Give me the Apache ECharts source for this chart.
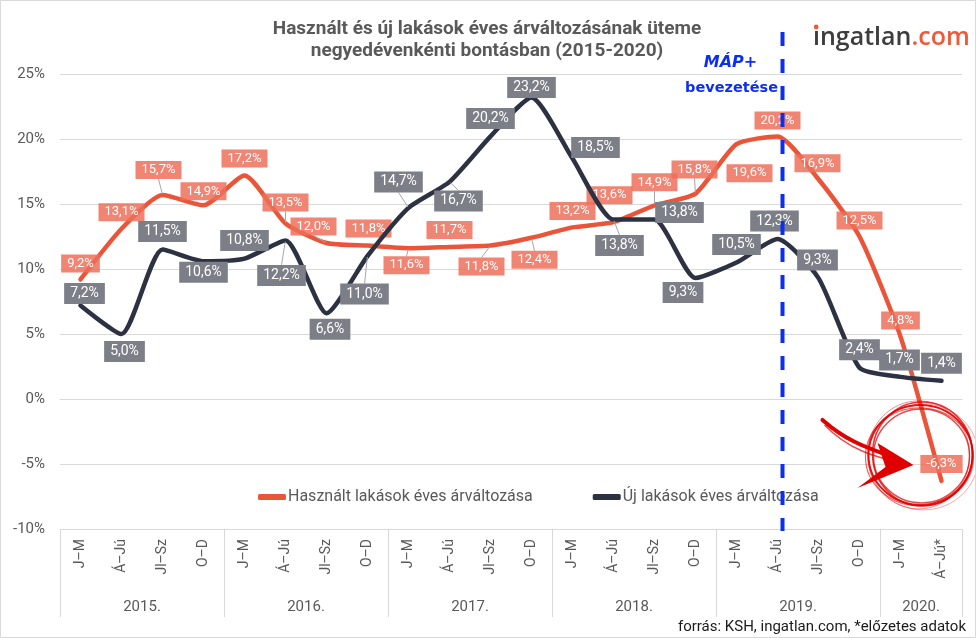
<!DOCTYPE html>
<html>
<head>
<meta charset="utf-8">
<script src="https://cdn.jsdelivr.net/npm/echarts@6/dist/echarts.min.js"></script>
<style>
html,body{margin:0;padding:0;background:#fff;}
#c{width:976px;height:638px;}
</style>
</head>
<body>
<div id="c"></div>
<script>
// ---- data ----
const quarters = ['J–M','Á–Jú','Jl–Sz','O–D','J–M','Á–Jú','Jl–Sz','O–D','J–M','Á–Jú','Jl–Sz','O–D','J–M','Á–Jú','Jl–Sz','O–D','J–M','Á–Jú','Jl–Sz','O–D','J–M','Á–Jú*'];
const years = ['2015.','2016.','2017.','2018.','2019.','2020.'];
const yearStarts = [0,4,8,12,16,20,22];
const usedPrices = [9.2,13.1,15.7,14.9,17.2,13.5,12.0,11.8,11.6,11.7,11.8,12.4,13.2,13.6,14.9,15.8,19.6,20.2,16.9,12.5,4.8,-6.3];
const newPrices  = [7.2,5.0,11.5,10.6,10.8,12.2,6.6,11.0,14.7,16.7,20.2,23.2,18.5,13.8,13.8,9.3,10.5,12.3,9.3,2.4,1.7,1.4];
const yTicks = {min:-10, max:25, step:5};
const usedName = 'Használt lakások éves árváltozása';
const newName = 'Új lakások éves árváltozása';
const markerIndex = 17; // MÁP+ bevezetése (2019 Á–Jú)

// ---- label placement (styling only) ----
const usedLabelShift = [[0,-16],[0,-16.5],[-4,-25],[0,-14],[0,-17],[0,-21],[-13,-16.5],[1,-17],[-2,17],[0,-17],[-9,21],[3,22],[0,-16.5],[-4,-27],[0,-23],[-1,-24],[13,29],[0,-16],[-1,-16],[0,-16],[0,-16],[0,-17]];
const newLabelShift = [[4,-12],[3,17.5],[0,-18],[0,11],[0,-18],[-4,35],[3.5,16],[-3,38],[-10,-26],[9,19],[0,-18],[0,-10],[23,-11],[6,26],[25,-7],[-12.5,14.5],[0,-18],[-3,-18],[-1,-18],[0,-18],[-1,-17],[0,-17.5]];
const usedLeader = [2,5,6,8,10,11,14,15];
const newLeader = [5,7,8,9,13];

const FONT = 'Roboto';
const GREY = '#595959';
const fmt = v => v.toFixed(1).replace('.', ',') + '%';

function buildData(values, leaders){
  return values.map((v,i)=>({value:v, labelLine:{show: leaders.indexOf(i) >= 0}}));
}

const chart = echarts.init(document.getElementById('c'), null, {renderer:'canvas'});

const option = {
  animation:false,
  backgroundColor:'#fff',
  textStyle:{fontFamily:FONT},
  title:{
    text:'Használt és új lakások éves árváltozásának üteme\nnegyedévenkénti bontásban (2015-2020)',
    left:482, top:13, textAlign:'center',
    textStyle:{fontFamily:FONT, fontSize:19, fontWeight:'bold', color:GREY, lineHeight:22}
  },
  legend:{
    left:253, top:484,
    icon:'roundRect', itemWidth:28, itemHeight:6, itemGap:60,
    textStyle:{fontFamily:FONT, fontSize:16, color:GREY, padding:[0,0,0,-3]},
    data:[usedName,newName]
  },
  grid:{left:60, right:14, top:74, bottom:109},
  xAxis:[{
    type:'category', data:quarters, boundaryGap:true,
    axisLine:{lineStyle:{color:'#d9d9d9'}},
    axisTick:{show:false},
    axisLabel:{rotate:90, fontSize:14, color:GREY, fontFamily:FONT, margin:10}
  },{
    type:'value', min:0, max:22, position:'bottom',
    axisLine:{show:false}, splitLine:{show:false},
    axisTick:{show:true, customValues:yearStarts, length:88, inside:false, lineStyle:{color:'#d9d9d9'}},
    axisLabel:{customValues:yearStarts.slice(0,-1).map((s,i)=>(s+yearStarts[i+1])/2),
      formatter:v=>{const idx = yearStarts.findIndex((s,i)=> i<yearStarts.length-1 && v> s && v< yearStarts[i+1]); return idx>=0?years[idx]:'';},
      margin:71, fontSize:15, color:GREY, fontFamily:FONT}
  }],
  yAxis:{
    type:'value', min:yTicks.min, max:yTicks.max, interval:yTicks.step,
    axisLine:{show:false}, axisTick:{show:false},
    axisLabel:{formatter:'{value}%', fontSize:15, color:GREY, fontFamily:FONT, margin:15},
    splitLine:{lineStyle:{color:'#d9d9d9'}}
  },
  series:[{
    name:usedName, type:'line', xAxisIndex:0, data:buildData(usedPrices, usedLeader),
    smooth:0.2, symbol:'circle', symbolSize:2, z:2,
    lineStyle:{color:'#EA5539', width:4.5, cap:'round', join:'round'},
    itemStyle:{color:'#EA5539'},
    label:{show:true, position:'inside', formatter:p=>fmt(p.value),
      fontFamily:FONT, fontSize:13, lineHeight:13, color:'#fff',
      backgroundColor:'rgba(237,112,90,0.85)', padding:[3,6,2,6]},
    labelLine:{show:false, lineStyle:{color:'#a6a6a6', width:1}},
    labelLayout:p=>({dx:usedLabelShift[p.dataIndex][0], dy:usedLabelShift[p.dataIndex][1]})
  },{
    name:newName, type:'line', xAxisIndex:0, data:buildData(newPrices, newLeader),
    smooth:0.2, symbol:'circle', symbolSize:2, z:3,
    lineStyle:{color:'#2D3242', width:4.5, cap:'round', join:'round'},
    itemStyle:{color:'#2D3242'},
    label:{show:true, position:'inside', formatter:p=>fmt(p.value),
      fontFamily:FONT, fontSize:14, lineHeight:14, color:'#fff',
      backgroundColor:'#7C7F87', padding:[4,6,3,6]},
    labelLine:{show:false, lineStyle:{color:'#a6a6a6', width:1}},
    labelLayout:p=>({dx:newLabelShift[p.dataIndex][0], dy:newLabelShift[p.dataIndex][1]})
  }]
};
chart.setOption(option);

// decorations placed relative to chart coordinates
const mk = chart.convertToPixel({xAxisIndex:0, yAxisIndex:0}, [markerIndex, 0]);
const mx = Math.round(mk[0]) + 4.5;
const last = chart.convertToPixel({xAxisIndex:0, yAxisIndex:0}, [usedPrices.length-1, usedPrices[usedPrices.length-1]]);
const cx = last[0] - 21, cy = last[1] - 26;
const RED = '#E00000';
const circles = [
  {rx:52, ry:50, dx:0, dy:0, w:2, o:0.9},
  {rx:50, ry:52, dx:2, dy:-1, w:1.5, o:0.8},
  {rx:54, ry:49, dx:-1, dy:2, w:1.2, o:0.6},
  {rx:48, ry:47, dx:1, dy:1, w:1.5, o:0.7},
  {rx:55, ry:53, dx:3, dy:2, w:1, o:0.35},
  {rx:51, ry:54, dx:-2, dy:0, w:1, o:0.45}
].map(c=>({type:'ellipse', z:110, shape:{cx:cx+c.dx, cy:cy+c.dy, rx:c.rx, ry:c.ry},
  style:{fill:'none', stroke:RED, lineWidth:c.w, opacity:c.o}}));

chart.setOption({
  graphic:[
    {type:'rect', z:200, shape:{x:0.5, y:0.5, width:975, height:637}, style:{fill:'none', stroke:'#d9d9d9', lineWidth:1}},
    {type:'line', z:100, shape:{x1:mx, y1:32, x2:mx, y2:531},
      style:{stroke:'#0B2EF2', lineWidth:4, lineDash:[14,13]}},
    {type:'text', z:100, style:{x:mx-52, y:63, text:'MÁP+', fill:'#0B2EF2', font:'italic bold 16px "DejaVu Sans"', textAlign:'center', textVerticalAlign:'middle'}},
    {type:'text', z:100, style:{x:mx-51, y:88, text:'bevezetése', fill:'#0B2EF2', font:'bold 14.5px "DejaVu Sans"', textAlign:'center', textVerticalAlign:'middle'}},
    {type:'text', z:100, style:{x:813, y:38, text:'{a|ıngatlan}{b|.com}', textVerticalAlign:'middle',
      rich:{a:{fontFamily:'Open Sans', fontWeight:600, fontSize:25, fill:'#3d3d3d', color:'#3d3d3d'},
            b:{fontFamily:'Open Sans', fontWeight:600, fontSize:25, fill:'#EE5A3C', color:'#EE5A3C'}}}},
    {type:'circle', z:101, shape:{cx:816.2, cy:27, r:2.4}, style:{fill:'#EE5A3C'}},
    {type:'text', z:100, style:{x:966, y:627, text:'forrás: KSH, ingatlan.com, *előzetes adatok', fill:'#1a1a1a', font:'15px Roboto', textAlign:'right', textVerticalAlign:'middle'}},
    ...circles,
    {type:'bezierCurve', z:110, shape:{x1:cx-98, y1:cy-35, cpx1:cx-70, cpy1:cy-10, cpx2:cx-45, cpy2:cy-5, x2:cx-20, y2:cy+5},
      style:{stroke:RED, lineWidth:4, fill:'none', lineCap:'round'}},
    {type:'bezierCurve', z:110, shape:{x1:cx-96, y1:cy-30, cpx1:cx-72, cpy1:cy-5, cpx2:cx-45, cpy2:cy+2, x2:cx-20, y2:cy+8},
      style:{stroke:RED, lineWidth:1.5, fill:'none', opacity:0.7}},
    {type:'polygon', z:111, shape:{points:[[cx-43,cy-12],[cx-7,cy+10],[cx-63,cy+33],[cx-35,cy+12]]},
      style:{fill:RED}}
  ]
});
</script>
</body>
</html>
